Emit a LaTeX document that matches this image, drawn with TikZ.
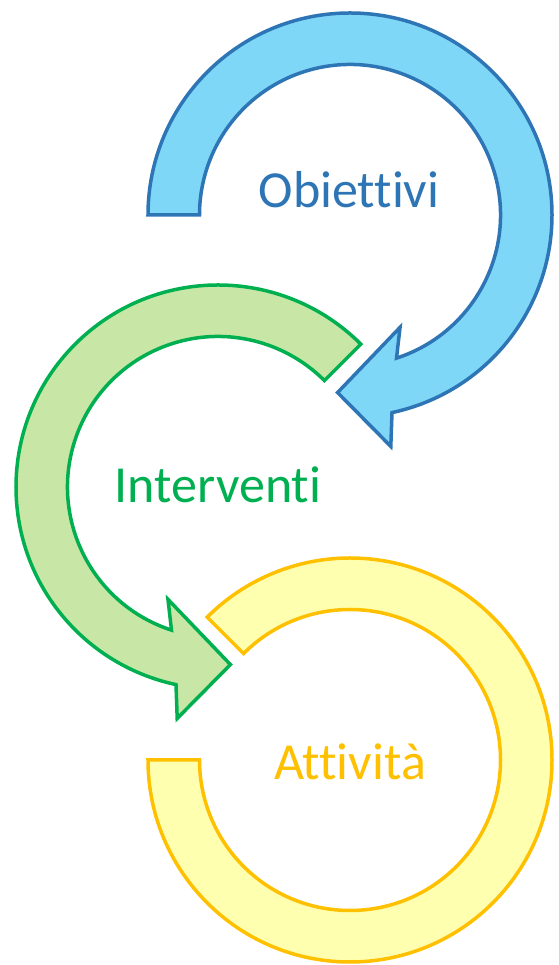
\documentclass[tikz,border=0pt]{standalone}
\usepackage{fontspec}
\setmainfont[Ligatures={NoCommon}]{Carlito}
\definecolor{bluefill}{HTML}{7FD7F8}
\definecolor{bluedraw}{HTML}{2E75B6}
\definecolor{greenfill}{HTML}{C8E6A6}
\definecolor{greendraw}{HTML}{00B050}
\definecolor{yellowfill}{HTML}{FFFFB0}
\definecolor{yellowdraw}{HTML}{FFC000}
\begin{document}
\begin{tikzpicture}[x=1pt,y=1pt,
  ringshape/.style={line width=3.5pt,line join=miter},
  bluearrow/.style={ringshape,fill=bluefill,draw=bluedraw},
  greenarrow/.style={ringshape,fill=greenfill,draw=greendraw},
  yellowarrow/.style={ringshape,fill=yellowfill,draw=yellowdraw},
  label/.style={anchor=base,font=\fontsize{52}{60}\selectfont,inner sep=0pt}]
\useasboundingbox (0,0) rectangle (558,965);
% blue arrow (Obiettivi)
\begin{scope}[shift={(350,750)}]
\draw[bluearrow] (180:202) arc[start angle=180,end angle=-78,radius=202pt]
  -- (-80:235) -- (-94:178) -- (-66:123) -- (-72:150.5)
  arc[start angle=-72,end angle=180,radius=150.5pt] -- cycle;
\end{scope}
% green arrow (Interventi)
\begin{scope}[shift={(218,478)}]
\draw[greenarrow] (45:202) arc[start angle=45,end angle=258,radius=202pt]
  -- (260:235) -- (274:178) -- (246:123) -- (252:150.5)
  arc[start angle=252,end angle=45,radius=150.5pt] -- cycle;
\end{scope}
% yellow ring (Attività)
\begin{scope}[shift={(350,205)}]
\draw[yellowarrow] (180:202) arc[start angle=180,end angle=495,radius=202pt]
  -- (495:150.5) arc[start angle=495,end angle=180,radius=150.5pt] -- cycle;
\end{scope}
\node[label,text=bluedraw] (obiettivi) at (349,757) {Obiettivi};
\node[label,text=greendraw] (interventi) at (218,462) {Interventi};
\node[label,text=yellowdraw] (attivita) at (350,185) {Attività};
\end{tikzpicture}
\end{document}
